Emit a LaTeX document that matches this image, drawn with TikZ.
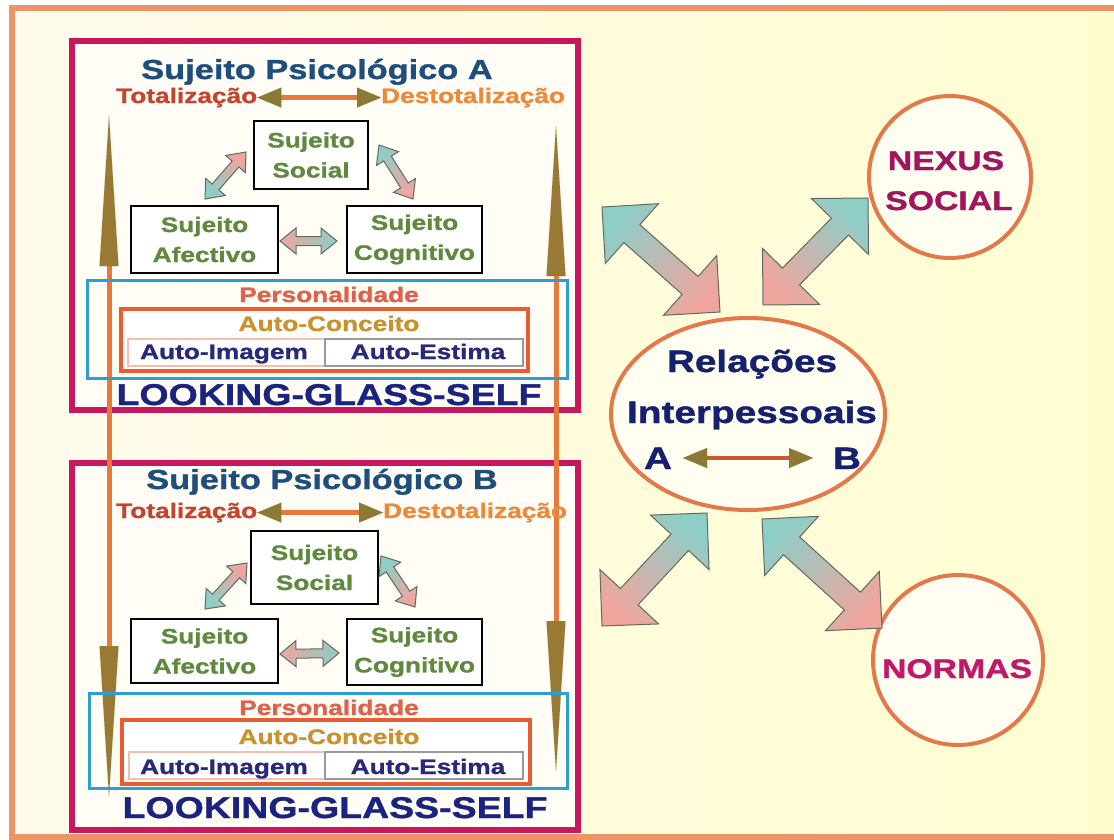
\documentclass[tikz,border=0pt]{standalone}
\usepackage{fontspec}
\newfontfamily\diagfont{Liberation Sans}[FakeStretch=1.25, BoldFeatures={FakeBold=1.2}]
\usetikzlibrary{arrows.meta,shapes.geometric}

\definecolor{framecrimson}{HTML}{C8175D}
\definecolor{boxwhite}{HTML}{FFFDF6}
\definecolor{titleblue}{HTML}{1D4E7C}
\definecolor{totred}{HTML}{C4452F}
\definecolor{destorange}{HTML}{EC8A3C}
\definecolor{subjgreen}{HTML}{5F8A3E}
\definecolor{perscyan}{HTML}{2C9FD2}
\definecolor{concorange}{HTML}{E85C30}
\definecolor{perstext}{HTML}{E0614B}
\definecolor{conctext}{HTML}{C8922E}
\definecolor{imgindigo}{HTML}{2A2878}
\definecolor{lgsnavy}{HTML}{1A2480}
\definecolor{relnavy}{HTML}{15206E}
\definecolor{nexusplum}{HTML}{A0155E}
\definecolor{normaspink}{HTML}{C2186A}
\definecolor{ringorange}{HTML}{E2794B}
\definecolor{ringfill}{HTML}{FFFEF0}
\definecolor{lineorange}{HTML}{E77A3A}
\definecolor{abred}{HTML}{C75A2C}
\definecolor{tipolive}{HTML}{8A7A34}
\definecolor{headteal}{HTML}{8FCDC7}
\definecolor{headpink}{HTML}{EFA69E}
\definecolor{arrowgray}{HTML}{5E6B5E}
\definecolor{bgleft}{HTML}{FFFBEC}
\definecolor{bgright}{HTML}{FFFDD0}
\definecolor{borderpeach}{HTML}{EC9468}

% block arrow with two heads, shaded from one head colour to the other
% #1,#2 end points, #3,#4 head colours, #5 shaft, #6 head width, #7 head length
\newcommand\fatarrow[7]{%
  \pgfpointdiff{\pgfpointanchor{#1}{center}}{\pgfpointanchor{#2}{center}}%
  \pgfgetlastxy{\fatdx}{\fatdy}%
  \pgfmathsetmacro\fatang{atan2(\fatdy,\fatdx)}%
  \pgfmathsetmacro\fatlen{veclen(\fatdx,\fatdy)}%
  \pgfmathsetmacro\fatshade{\fatang-90}%
  \shade[shift={(#1)}, rotate=\fatang, draw=arrowgray, line width=1pt,
    bottom color=#3, top color=#4, shading angle=\fatshade]
    (0,0) -- (#7,#6/2) -- (#7,#5/2) -- (\fatlen-#7,#5/2) -- (\fatlen-#7,#6/2)
    -- (\fatlen,0) -- (\fatlen-#7,-#6/2) -- (\fatlen-#7,-#5/2) -- (#7,-#5/2)
    -- (#7,-#6/2) -- cycle;}

\tikzset{
  sujframe/.style={draw=framecrimson, line width=6pt, fill=boxwhite},
  subject/.style={draw=black, line width=2.5pt, fill=white, align=center,
    inner sep=0pt, text=subjgreen, font=\diagfont\bfseries\fontsize{21}{30}\selectfont},
  headline/.style={inner sep=0pt, anchor=base, text=titleblue,
    font=\diagfont\bfseries\fontsize{27.5}{33}\selectfont},
  tot/.style={inner sep=0pt, anchor=base west, text=totred,
    font=\diagfont\bfseries\fontsize{21}{25}\selectfont},
  destot/.style={tot, text=destorange},
  persona/.style={inner sep=0pt, anchor=base, text=perstext,
    font=\diagfont\bfseries\fontsize{21}{25}\selectfont},
  concept/.style={persona, text=conctext},
  selfpart/.style={persona, text=imgindigo},
  lgs/.style={inner sep=0pt, anchor=base, text=lgsnavy,
    font=\diagfont\bfseries\fontsize{30}{36}\selectfont},
  ring/.style={draw=ringorange, line width=4pt, fill=ringfill},
  rellabel/.style={inner sep=0pt, anchor=base, text=relnavy,
    font=\diagfont\bfseries\fontsize{31}{37}\selectfont},
  outerlabel/.style={inner sep=0pt, anchor=base, text=nexusplum,
    font=\diagfont\bfseries\fontsize{27}{32}\selectfont},
  spinetip/.tip={Triangle[length=150pt,width=19pt,line width=0.01pt,color=tipolive!85!lineorange]},
  flowtip/.tip={Triangle[length=24pt,width=20pt,line width=0.01pt,color=tipolive]},
  spinearrow/.style={draw=lineorange, line width=5pt, spinetip-spinetip},
  flowarrow/.style={draw=lineorange, line width=5pt, flowtip-flowtip},
}

\begin{document}
\begin{tikzpicture}[x=1pt, y=-1pt]
  \useasboundingbox (0,0) rectangle (1114,839);
  % background and page border
  \fill[white] (0,0) rectangle (1114,839);
  \shade[left color=bgleft, right color=bgright] (12,8) rectangle (1114,837);
  \draw[borderpeach, line width=6pt] (1114,8) -- (12,8) -- (12,837) -- (1114,837);

  % the two psychological subjects
  \draw[sujframe] (72,41) rectangle (578,410);
  \draw[sujframe] (72,463) rectangle (578,830);

  % totalization axes running through both frames
  \coordinate (spL1) at (109,116);
  \coordinate (spL2) at (109,796);
  \coordinate (spR1) at (556,126);
  \coordinate (spR2) at (556,771);
  \draw[spinearrow] (spL1) -- (spL2);
  \draw[spinearrow] (spR1) -- (spR2);

  % subject A
  \node[headline] (titA) at (317,79) {Sujeito Psicológico A};
  \node[tot] (totA) at (116,103) {Totalização};
  \node[destot] (desA) at (381,103) {Destotalização};
  \draw[flowarrow] (totA.east) -- (desA.west);
  \node[subject, minimum width=114pt, minimum height=68pt] (socA) at (311,155) {Sujeito\\Social};
  \node[subject, minimum width=147pt, minimum height=67pt] (afeA) at (204.5,239.5) {Sujeito\\Afectivo};
  \node[subject, minimum width=135pt, minimum height=67pt] (cogA) at (414.5,239.5) {Sujeito\\Cognitivo};
  \coordinate (saA1) at (205,199);
  \coordinate (saA2) at (246,152);
  \coordinate (scA1) at (379,145);
  \coordinate (scA2) at (413,199);
  \coordinate (acA1) at (280,241);
  \coordinate (acA2) at (337,241);
  \fatarrow{saA1}{saA2}{headteal}{headpink}{9}{26}{16}
  \fatarrow{scA1}{scA2}{headteal}{headpink}{9}{26}{16}
  \fatarrow{acA1}{acA2}{headpink}{headteal}{9}{26}{16}
  \draw[perscyan, line width=3pt] (87,280) rectangle (567,378);
  \draw[concorange, line width=3.5pt, fill=white] (121,309) rectangle (528,371);
  \draw[concorange!40, line width=1.5pt, fill=white] (128,339) rectangle (325,366);
  \draw[gray!80, line width=1.5pt, fill=white] (325,339) rectangle (523,366);
  \node[persona] (perA) at (329,302) {Personalidade};
  \node[concept] (conA) at (329,331) {Auto-Conceito};
  \node[selfpart] (imgA) at (224,359) {Auto-Imagem};
  \node[selfpart] (estA) at (428,359) {Auto-Estima};
  \node[lgs] (lgsA) at (329,405) {LOOKING-GLASS-SELF};

  % subject B
  \node[headline] (titB) at (322,489) {Sujeito Psicológico B};
  \node[tot] (totB) at (116,518) {Totalização};
  \node[destot] (desB) at (383,518) {Destotalização};
  \draw[flowarrow] (totB.east) -- (desB.west);
  \node[subject, minimum width=127pt, minimum height=73pt] (socB) at (314.5,567.5) {Sujeito\\Social};
  \node[subject, minimum width=147pt, minimum height=64pt] (afeB) at (204.5,651) {Sujeito\\Afectivo};
  \node[subject, minimum width=135pt, minimum height=66pt] (cogB) at (414.5,652) {Sujeito\\Cognitivo};
  \coordinate (saB1) at (205,609);
  \coordinate (saB2) at (247,563);
  \coordinate (scB1) at (381,556);
  \coordinate (scB2) at (415,607);
  \coordinate (acB1) at (280,654);
  \coordinate (acB2) at (339,653);
  \fatarrow{saB1}{saB2}{headteal}{headpink}{9}{26}{16}
  \fatarrow{scB1}{scB2}{headteal}{headpink}{9}{26}{16}
  \fatarrow{acB1}{acB2}{headpink}{headteal}{9}{26}{16}
  \draw[perscyan, line width=3pt] (89,693) rectangle (567,788);
  \draw[concorange, line width=3.5pt, fill=white] (122,720) rectangle (530,784);
  \draw[concorange!40, line width=1.5pt, fill=white] (129,752) rectangle (325,779);
  \draw[gray!80, line width=1.5pt, fill=white] (325,752) rectangle (523,779);
  \node[persona] (perB) at (329,715) {Personalidade};
  \node[concept] (conB) at (329,744) {Auto-Conceito};
  \node[selfpart] (imgB) at (224,774) {Auto-Imagem};
  \node[selfpart] (estB) at (428,774) {Auto-Estima};
  \node[lgs] (lgsB) at (335,818) {LOOKING-GLASS-SELF};

  % interpersonal relations and the social context
  \node[ring, ellipse, minimum width=274pt, minimum height=192pt] (rel) at (748,414) {};
  \node[rellabel] (relT1) at (752,372) {Relações};
  \node[rellabel] (relT2) at (752,423) {Interpessoais};
  \node[rellabel] (relA) at (658,469) {A};
  \node[rellabel] (relB) at (847,469) {B};
  \coordinate (abL) at (683,458);
  \coordinate (abR) at (813,458);
  \draw[flowarrow, draw=abred, line width=4pt] (abL) -- (abR);

  \node[ring, circle, minimum size=162pt] (nexus) at (950,177) {};
  \node[outerlabel] (nexT1) at (946,170) {NEXUS};
  \node[outerlabel] (nexT2) at (949,210) {SOCIAL};
  \node[ring, circle, minimum size=170pt] (normas) at (958,660) {};
  \node[outerlabel, text=normaspink] (normT) at (957,678) {NORMAS};

  \coordinate (arUL1) at (602,207);
  \coordinate (arUL2) at (720,312);
  \coordinate (arUR1) at (868,198);
  \coordinate (arUR2) at (763,305);
  \coordinate (arLL1) at (707,513);
  \coordinate (arLL2) at (602,626);
  \coordinate (arLR1) at (762,519);
  \coordinate (arLR2) at (882,628);
  \fatarrow{arUL1}{arUL2}{headteal}{headpink}{24}{80}{40}
  \fatarrow{arUR1}{arUR2}{headteal}{headpink}{24}{80}{40}
  \fatarrow{arLL1}{arLL2}{headteal}{headpink}{24}{80}{40}
  \fatarrow{arLR1}{arLR2}{headteal}{headpink}{24}{80}{40}
\end{tikzpicture}
\end{document}
